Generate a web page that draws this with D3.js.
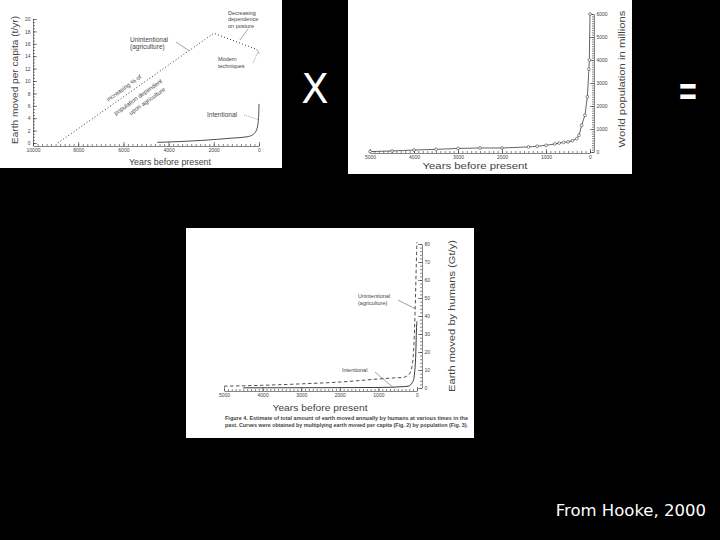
<!DOCTYPE html>
<html>
<head>
<meta charset="utf-8">
<script src="https://cdn.jsdelivr.net/npm/d3@7"></script>
<style>
  body { margin: 0; background: #000; }
  .ax path, .ax line { stroke: #333; stroke-width: 0.6; }
  .ax text { fill: #444; font-family: "Liberation Sans", sans-serif; font-size: 5px; }
  .lbl { fill: #444; font-family: "Liberation Sans", sans-serif; }
</style>
</head>
<body>
<div id="chart"></div>
<script>
const width = 720;
const height = 540;

// Fig. 2 - earth moved per capita (t/yr)
const perCapitaUnintYears = [8900, 2000, 100, 0];
const perCapitaUnint = [0, 17.7, 15.1, 14.4];
const perCapitaIntYears = [4500, 2600, 1150, 530, 250, 100, 20, 0];
const perCapitaInt = [0.1, 0.4, 0.8, 1.0, 1.4, 2.2, 4.0, 6.3];
const perCapitaXTicks = [10000, 8000, 6000, 4000, 2000, 0];
const perCapitaYTicks = [0, 2, 4, 6, 8, 10, 12, 14, 16, 18, 20];

// Fig. 3 - world population (millions)
const popYears = [5000, 4500, 4000, 3500, 3000, 2500, 2000, 1400, 1200, 1000, 800, 700, 600, 500, 400, 300, 250, 190, 115, 60, 25, 15, 0];
const popMillions = [20, 45, 85, 115, 155, 175, 175, 220, 250, 290, 350, 390, 420, 440, 490, 580, 730, 1160, 1600, 2400, 3600, 4000, 6000];
const popXTicks = [5000, 4000, 3000, 2000, 1000, 0];
const popYTicks = [0, 1000, 2000, 3000, 4000, 5000, 6000];

// Fig. 4 - total earth moved (Gt/y)
const totalUnintYears = [5000, 4000, 3000, 2000, 1000, 600, 360, 250, 190, 130, 90, 60, 40, 25, 10, 0];
const totalUnint = [1.0, 1.5, 2.3, 3.3, 5.0, 5.6, 5.9, 6.8, 8, 12, 20, 35, 50, 63, 75, 81];
const totalIntYears = [4500, 3000, 2000, 1000, 665, 400, 233, 104, 60, 35, 9, 0];
const totalInt = [0.1, 0.15, 0.2, 0.3, 0.4, 0.7, 1.0, 3.7, 9, 17, 35, 37];
const totalXTicks = [5000, 4000, 3000, 2000, 1000, 0];
const totalYTicks = [0, 10, 20, 30, 40, 50, 60, 70, 80];

const svg = d3.select("#chart").append("svg")
  .attr("width", width).attr("height", height)
  .style("background", "#000");

function panel(x, y, w, h) {
  svg.append("rect").attr("x", x).attr("y", y).attr("width", w).attr("height", h).attr("fill", "#fff");
}

// make() returns a fresh d3 axis generator each time
function axis(make, tx, ty, major, minor) {
  svg.append("g").attr("class", "ax").attr("transform", `translate(${tx},${ty})`)
    .call(make().tickValues(minor).tickSize(-2).tickFormat(""))
    .call(g => g.select(".domain").remove());
  const g = svg.append("g").attr("class", "ax").attr("transform", `translate(${tx},${ty})`)
    .call(make().tickValues(major).tickSizeInner(-4).tickSizeOuter(0).tickPadding(2.5).tickFormat(d3.format("d")));
  g.attr("font-size", null).attr("font-family", null);
  return g;
}

function label(x, y, lines, size, anchor, lh) {
  const t = svg.append("text").attr("class", "lbl").attr("x", x).attr("y", y)
    .attr("font-size", size).attr("text-anchor", anchor || "start");
  lines.forEach((s, i) => t.append("tspan").attr("x", x).attr("dy", i ? (lh || size * 1.1) : 0).text(s));
  return t;
}

function title(x, y, text, size, len, rotate) {
  svg.append("text").attr("class", "lbl")
    .attr("transform", `translate(${x},${y})` + (rotate ? " rotate(-90)" : ""))
    .attr("text-anchor", "middle").attr("dy", "0.35em")
    .attr("font-size", size).attr("textLength", len).attr("lengthAdjust", "spacingAndGlyphs")
    .text(text);
}

function leader(x1, y1, x2, y2, dash) {
  svg.append("line").attr("x1", x1).attr("y1", y1).attr("x2", x2).attr("y2", y2)
    .attr("stroke", "#444").attr("stroke-width", 0.5).attr("stroke-dasharray", dash || null);
}

const zip = (a, b) => a.map((v, i) => [v, b[i]]);

// ---------- panel 1 ----------
panel(0, 0, 282, 168);
const x1 = d3.scaleLinear().domain([10000, 0]).range([33, 259]);
const y1 = d3.scaleLinear().domain([0, 20]).range([143, 19]);
axis(() => d3.axisBottom(x1), 0, 146, perCapitaXTicks, d3.range(0, 10001, 200));
axis(() => d3.axisLeft(y1), 33, 0, perCapitaYTicks, d3.range(0, 20.01, 0.5));
const line1 = d3.line().x(d => x1(d[0])).y(d => y1(d[1]));
svg.append("path").attr("d", line1(zip(perCapitaUnintYears, perCapitaUnint)))
  .attr("fill", "none").attr("stroke", "#222").attr("stroke-width", 0.9).attr("stroke-dasharray", "1,2.2");
svg.append("path").attr("d", line1.curve(d3.curveMonotoneX)(zip(perCapitaIntYears, perCapitaInt)))
  .attr("fill", "none").attr("stroke", "#222").attr("stroke-width", 0.8);
title(15, 80, "Earth moved per capita (t/yr)", 9, 128, true);
title(170, 162, "Years before present", 9, 82);
label(130, 42, ["Unintentional", "(agriculture)"], 6.5, "start", 7);
leader(176, 42, x1(3100), y1(14.9));
label(228, 15, ["Decreasing", "dependence", "on posture"], 5.5, "start", 6.3);
leader(248, 29, x1(850), y1(16.6));
label(218, 61, ["Modern", "techniques"], 5.5, "start", 6.5);
leader(253, 63, x1(30), y1(14.8), "1,1");
label(207, 117, ["Intentional"], 6.5);
leader(244, 115, x1(40), y1(3.8), "1,1");
[["increasing % of", 124, 88], ["population dependent", 138, 97], ["upon agriculture", 147, 101]]
  .forEach(([s, cx, cy]) => svg.append("text").attr("class", "lbl")
    .attr("transform", `translate(${cx},${cy}) rotate(-35.5)`)
    .attr("text-anchor", "middle").attr("font-size", 6).attr("dy", "0.35em").text(s));

// ---------- panel 2 ----------
panel(348, 0, 284, 174);
const x2 = d3.scaleLinear().domain([5000, 0]).range([370, 590]);
const y2 = d3.scaleLinear().domain([0, 6000]).range([152, 14]);
axis(() => d3.axisBottom(x2), 0, 153, popXTicks, d3.range(0, 5001, 100));
axis(() => d3.axisRight(y2), 594, 0, popYTicks, d3.range(0, 6001, 100));
const popData = zip(popYears, popMillions);
svg.append("path").attr("d", d3.line().x(d => x2(d[0])).y(d => y2(d[1]))(popData))
  .attr("fill", "none").attr("stroke", "#222").attr("stroke-width", 0.7);
svg.selectAll(".pop").data(popData).enter().append("circle").attr("class", "pop")
  .attr("cx", d => x2(d[0])).attr("cy", d => y2(d[1])).attr("r", 1.4)
  .attr("fill", "#fff").attr("stroke", "#222").attr("stroke-width", 0.5);
title(622, 79, "World population in millions", 9.5, 137, true);
title(475, 165.5, "Years before present", 9, 105);

// ---------- panel 3 ----------
panel(186, 228, 288, 210);
const x3 = d3.scaleLinear().domain([5000, 0]).range([224, 417]);
const y3 = d3.scaleLinear().domain([0, 80]).range([388, 244]);
axis(() => d3.axisBottom(x3), 0, 391, totalXTicks, d3.range(0, 5001, 100));
axis(() => d3.axisRight(y3), 422, 0, totalYTicks, d3.range(0, 80.01, 2));
const line3 = d3.line().x(d => x3(d[0])).y(d => y3(d[1])).curve(d3.curveMonotoneX);
svg.append("path").attr("d", line3(zip(totalUnintYears, totalUnint)))
  .attr("fill", "none").attr("stroke", "#222").attr("stroke-width", 0.8).attr("stroke-dasharray", "3.5,2.5");
svg.append("path").attr("d", line3(zip(totalIntYears, totalInt)))
  .attr("fill", "none").attr("stroke", "#222").attr("stroke-width", 0.9);
title(452, 316, "Earth moved by humans (Gt/y)", 9.5, 152, true);
title(320, 407.5, "Years before present", 9, 95);
label(358, 298, ["Unintentional", "(agriculture)"], 5.5, "start", 7);
leader(398, 300, x3(45), y3(44));
label(342, 372, ["Intentional"], 5.5);
leader(375, 372, x3(620), y3(0.3));
svg.append("text").attr("class", "lbl").attr("x", 225).attr("y", 420).attr("font-size", 5)
  .attr("font-weight", "bold").attr("textLength", 243).attr("lengthAdjust", "spacingAndGlyphs")
  .text("Figure 4. Estimate of total amount of earth moved annually by humans at various times in the");
svg.append("text").attr("class", "lbl").attr("x", 225).attr("y", 426.5).attr("font-size", 5)
  .attr("font-weight", "bold").attr("textLength", 243).attr("lengthAdjust", "spacingAndGlyphs")
  .text("past. Curves were obtained by multiplying earth moved per capita (Fig. 2) by population (Fig. 3).");

// ---------- slide text ----------
svg.append("text").attr("x", 315).attr("y", 103).attr("text-anchor", "middle")
  .attr("fill", "#fff").attr("font-family", "DejaVu Sans").attr("font-size", 40).text("X");
svg.append("text").attr("transform", "translate(688,108) scale(0.45,1)").attr("text-anchor", "middle")
  .attr("fill", "#fff").attr("font-family", "DejaVu Sans").attr("font-size", 54).text("=");
svg.append("text").attr("x", 706).attr("y", 516).attr("text-anchor", "end")
  .attr("fill", "#fff").attr("font-family", "DejaVu Sans").attr("font-size", 16.5)
  .text("From Hooke, 2000");
</script>
</body>
</html>
